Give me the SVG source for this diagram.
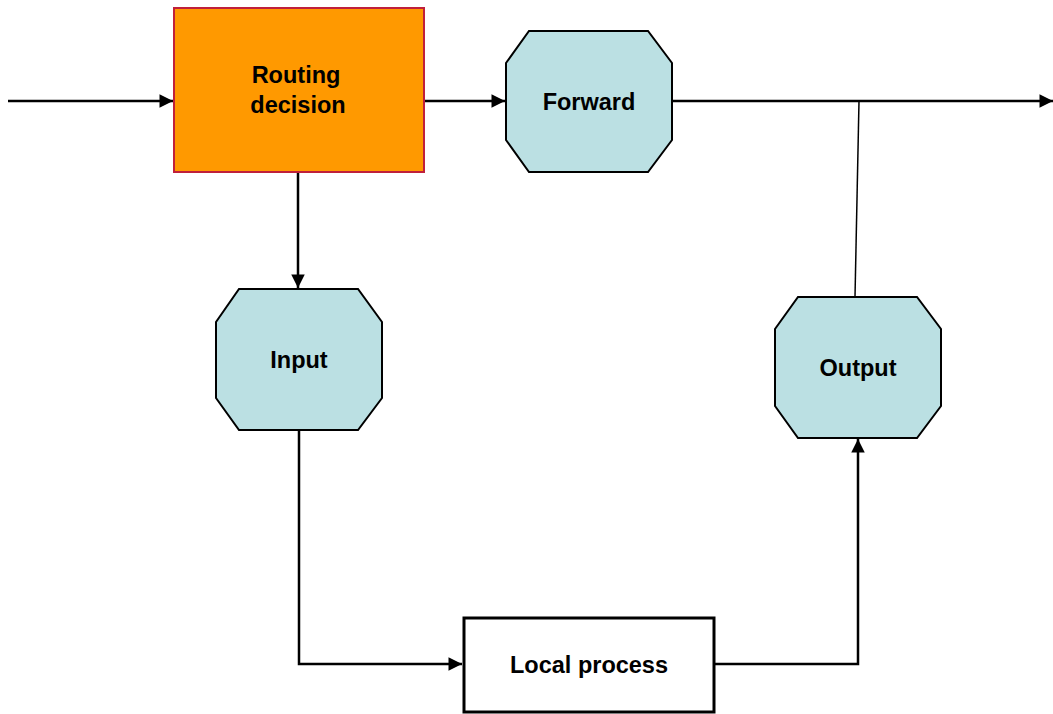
<svg xmlns="http://www.w3.org/2000/svg" width="1053" height="714" viewBox="0 0 1053 714">
  <style>
    .lbl { font-family: "Liberation Sans", Arial, sans-serif; font-weight: bold; font-size: 23.5px; fill: #000; text-anchor: middle; dominant-baseline: central; }
    .oct { fill: #BBE0E3; stroke: #000; stroke-width: 2; }
    .wire { fill: none; stroke: #000; stroke-width: 2.5; }
    .thin { fill: none; stroke: #000; stroke-width: 1.5; }
  </style>
  <defs>
    <marker id="arrow" viewBox="0 0 10 10" refX="10" refY="5" markerWidth="6" markerHeight="5.4" markerUnits="strokeWidth" orient="auto">
      <path d="M0,0 L10,5 L0,10 Z" fill="#000"/>
    </marker>
  </defs>
  <rect width="1053" height="714" fill="#fff"/>

  <g id="connectors">
    <line class="wire" x1="8" y1="101" x2="173" y2="101" marker-end="url(#arrow)"/>
    <line class="wire" x1="424" y1="101" x2="505" y2="101" marker-end="url(#arrow)"/>
    <line class="wire" x1="672" y1="101" x2="1053" y2="101" marker-end="url(#arrow)"/>
    <line class="wire" x1="298" y1="172" x2="298" y2="288" marker-end="url(#arrow)"/>
    <polyline class="wire" points="299,430 299,664 462,664" marker-end="url(#arrow)"/>
    <polyline class="wire" points="714,664 858,664 858,439" marker-end="url(#arrow)"/>
    <line class="thin" x1="855" y1="297" x2="859" y2="101"/>
  </g>

  <g id="routing-decision">
    <rect x="174" y="8" width="250" height="164" fill="#FF9900" stroke="#C0203A" stroke-width="2"/>
    <text class="lbl" x="296" y="75">Routing</text>
    <text class="lbl" x="298" y="105">decision</text>
  </g>

  <g id="forward">
    <polygon class="oct" points="529,31 648,31 672,63 672,140 648,172 529,172 506,140 506,63"/>
    <text class="lbl" x="589" y="102">Forward</text>
  </g>

  <g id="input">
    <polygon class="oct" points="239,289 358,289 382,322 382,398 358,430 239,430 216,398 216,322"/>
    <text class="lbl" x="299" y="360">Input</text>
  </g>

  <g id="output">
    <polygon class="oct" points="798,297 917,297 941,329 941,406 917,438 798,438 775,406 775,329"/>
    <text class="lbl" x="858" y="368">Output</text>
  </g>

  <g id="local-process">
    <rect x="464" y="618" width="250" height="94" fill="#fff" stroke="#000" stroke-width="3"/>
    <text class="lbl" x="589" y="665">Local process</text>
  </g>
</svg>
